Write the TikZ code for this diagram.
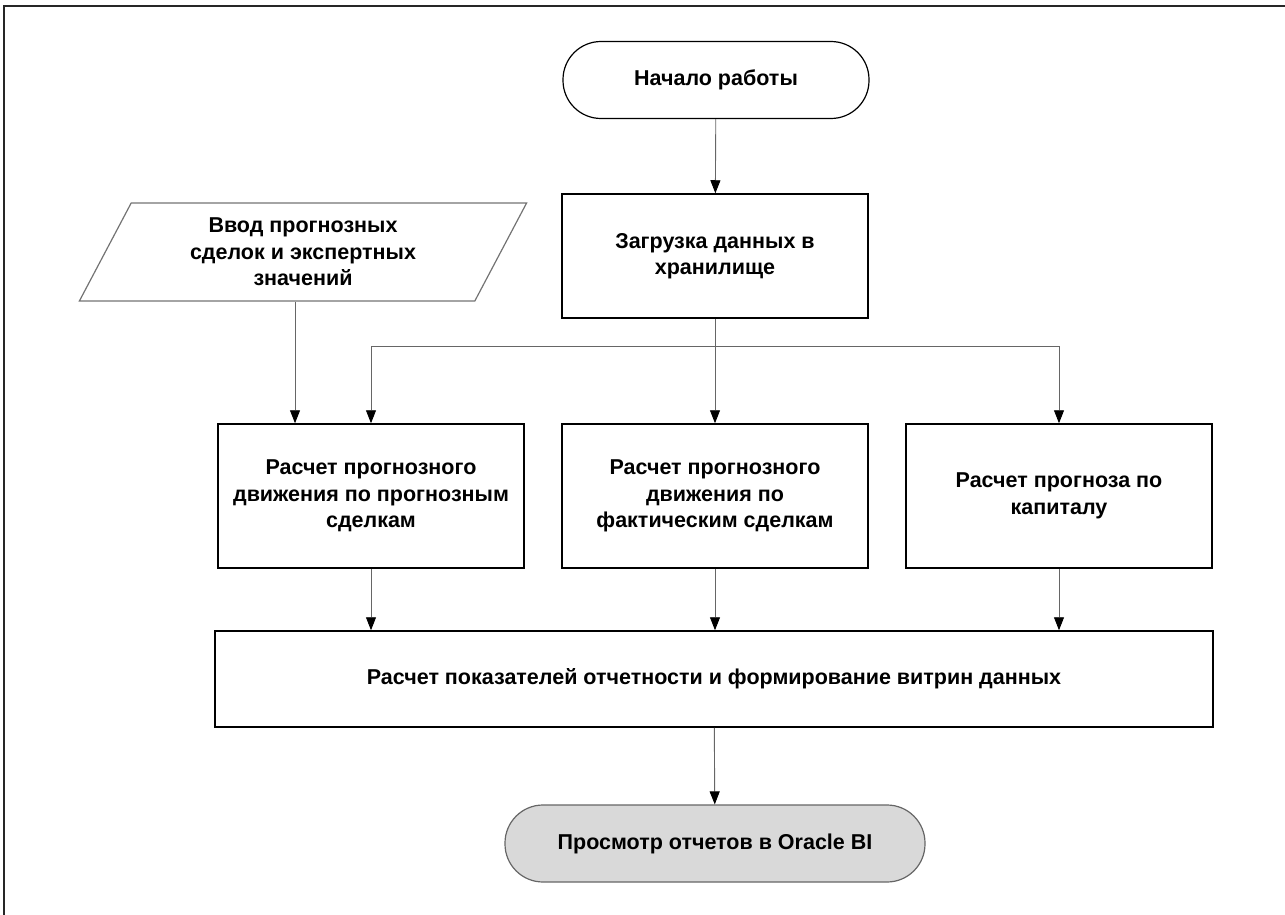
\documentclass[tikz,border=0pt]{standalone}
\usepackage{fontspec}
\setmainfont{Liberation Sans}
\usepackage{tikz}
\usetikzlibrary{positioning,shapes,calc,arrows.meta}

\begin{document}
\begin{tikzpicture}[x=1pt,y=-1pt,
    every node/.style={font=\fontsize{21.5}{26.5}\selectfont\bfseries, align=center, inner sep=0pt},
    box/.style={draw, line width=1.5pt, rectangle, minimum width=306pt},
    term/.style={draw, line width=1.2pt, rectangle, rounded corners=38pt, minimum height=77pt},
    datain/.style={draw, line width=1.2pt, trapezium, trapezium left angle=63.4, trapezium right angle=116.6,
      trapezium stretches=true, minimum width=449pt, minimum height=98pt, draw=black!55},
    arr/.style={draw=black!60, line width=0.9pt, -{Triangle[width=10pt,length=13pt,fill=black,color=black]}}]
    \useasboundingbox (0,0) rectangle (1285,915);
    % frame
    \draw[black!85, line width=2pt] (4,915) -- (4,6) -- (1285,6);
    % nodes
    \node[term, minimum width=306pt] (start) at (716,80) {Начало работы};
    \node[box, minimum height=124pt] (load) at (715,256) {Загрузка данных в\\хранилище};
    \node[datain] (input) at (303,252) {Ввод прогнозных\\сделок и экспертных\\значений};
    \node[box, minimum height=144pt] (calcA) at (371,496) {Расчет прогнозного\\движения по прогнозным\\сделкам};
    \node[box, minimum height=144pt] (calcB) at (715,496) {Расчет прогнозного\\движения по\\фактическим сделкам};
    \node[box, minimum height=144pt] (calcC) at (1059,496) {Расчет прогноза по\\капиталу};
    \node[box, minimum width=998pt, minimum height=96pt] (report) at (714,679) {Расчет показателей отчетности и формирование витрин данных};
    \node[term, minimum width=420pt, fill=black!15, draw=black!60] (view) at (715,843.5) {Просмотр отчетов в Oracle BI};
    \coordinate (split) at (715,346);
    % connectors
    \draw[arr] (start) -- (load);
    \draw[arr] (load) -- (calcB);
    \draw[arr] (split) -| (calcA.north);
    \draw[arr] (split) -| (calcC.north);
    \draw[arr] ([xshift=-8pt]input.south) -- ([xshift=-8pt]input.south |- calcA.north);
    \draw[arr] (calcA) -- (calcA |- report.north);
    \draw[arr] (calcB) -- (calcB |- report.north);
    \draw[arr] (calcC) -- (calcC |- report.north);
    \draw[arr] (report) -- (view);
\end{tikzpicture}
\end{document}
